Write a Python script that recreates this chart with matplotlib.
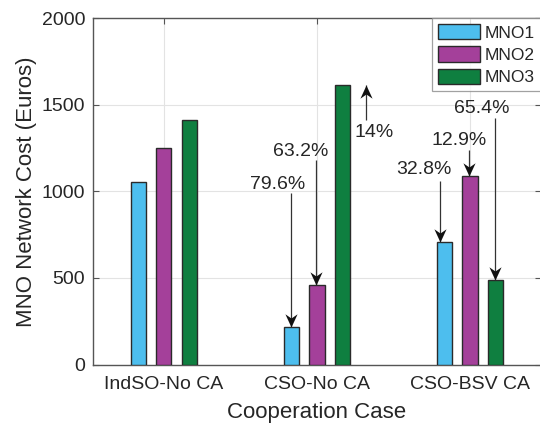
import numpy as np
import matplotlib
matplotlib.use("Agg")
import matplotlib.pyplot as plt
from matplotlib.path import Path

plt.rcParams["font.family"] = ["Liberation Sans", "DejaVu Sans"]

# network cost per operator for each cooperation case (Euros)
cases = ["IndSO-No CA", "CSO-No CA", "CSO-BSV CA"]
operators = ["MNO1", "MNO2", "MNO3"]
mno1_cost = [1053, 215, 708]
mno2_cost = [1250, 460, 1089]
mno3_cost = [1415, 1613, 490]

# change relative to the IndSO case, shown as annotations
change_labels = {
    ("CSO-No CA", "MNO1"): "79.6%",
    ("CSO-No CA", "MNO2"): "63.2%",
    ("CSO-No CA", "MNO3"): "14%",
    ("CSO-BSV CA", "MNO1"): "32.8%",
    ("CSO-BSV CA", "MNO2"): "12.9%",
    ("CSO-BSV CA", "MNO3"): "65.4%",
}

colors = ["#4DBEEE", "#A4409A", "#0F7F40"]
text_color = "#262626"
axis_color = "#555555"

# notched arrow head, tip at the origin pointing down
HEAD_DOWN = Path([(0, 0), (-0.46, 1), (0, 0.68), (0.46, 1), (0, 0)],
                 [Path.MOVETO, Path.LINETO, Path.LINETO, Path.LINETO, Path.CLOSEPOLY])
HEAD_UP = Path([(0, 0), (-0.46, -1), (0, -0.68), (0.46, -1), (0, 0)],
               [Path.MOVETO, Path.LINETO, Path.LINETO, Path.LINETO, Path.CLOSEPOLY])


def draw_arrow(ax, x, y_from, y_to):
    ax.plot([x, x], [y_from, y_to], color="#333333", lw=0.9, zorder=4,
            solid_capstyle="butt")
    head = HEAD_DOWN if y_to < y_from else HEAD_UP
    ax.plot([x], [y_to], marker=head, markersize=19, color="#111111",
            markeredgewidth=0, zorder=5)


fig = plt.figure(figsize=(5.4, 4.26), dpi=100)
ax = fig.add_axes([92.7 / 540, 61.5 / 426, 448.3 / 540, 346.2 / 426])

x = np.arange(1, len(cases) + 1)
step = 0.167
width = 0.1
series = [mno1_cost, mno2_cost, mno3_cost]
for i, (name, vals, col) in enumerate(zip(operators, series, colors)):
    ax.bar(x + (i - 1) * step, vals, width=width, color=col, edgecolor="#2a2a2a",
           linewidth=1.0, label=name, zorder=3)

base = {op: vals[0] for op, vals in zip(operators, series)}


def bar_x(case, op):
    return cases.index(case) + 1 + (operators.index(op) - 1) * step


def bar_val(case, op):
    return series[operators.index(op)][cases.index(case)]


# (case, operator): (text dx, text y, arrow dx, arrow tail y)
layout = {
    ("CSO-No CA", "MNO1"): (-0.088, 1038, 0.0, 992),
    ("CSO-No CA", "MNO2"): (-0.105, 1228, -0.005, 1182),
    ("CSO-BSV CA", "MNO1"): (-0.134, 1124, -0.03, 1062),
    ("CSO-BSV CA", "MNO2"): (-0.072, 1292, -0.005, 1240),
    ("CSO-BSV CA", "MNO3"): (-0.089, 1477, 0.0, 1425),
}
for key, (tdx, ty, adx, tail) in layout.items():
    bx = bar_x(*key)
    ax.text(bx + tdx, ty, change_labels[key], ha="center", va="center",
            fontsize=14, color=text_color, zorder=6)
    draw_arrow(ax, bx + adx, tail, bar_val(*key))

# MNO3 cost rises under CSO-No CA: arrow from the IndSO level up to the new level
bx = bar_x("CSO-No CA", "MNO3")
draw_arrow(ax, bx + 0.153, base["MNO3"], bar_val("CSO-No CA", "MNO3"))
ax.text(bx + 0.206, 1338, change_labels[("CSO-No CA", "MNO3")], ha="center",
        va="center", fontsize=14, color=text_color, zorder=6)

ax.set_xlim(0.535, 3.465)
ax.set_ylim(0, 2000)
ax.set_xticks(x)
ax.set_xticklabels(cases)
ax.set_yticks([0, 500, 1000, 1500, 2000])
ax.tick_params(direction="in", length=4, width=0.8, colors=axis_color,
               labelcolor=text_color, labelsize=14, top=True, right=True)
ax.tick_params(axis="y", pad=5.5)
ax.tick_params(axis="x", pad=8.5)
ax.grid(True, color="#E3E3E3", linewidth=0.8, zorder=0)
ax.set_axisbelow(True)
for sp in ax.spines.values():
    sp.set_color(axis_color)
    sp.set_linewidth(1.0)

ax.set_xlabel("Cooperation Case", fontsize=16, color=text_color, labelpad=6.5)
ax.set_ylabel("MNO Network Cost (Euros)", fontsize=16, color=text_color,
              labelpad=3)

leg = ax.legend(loc="upper right", bbox_to_anchor=(1.0, 1.0), borderaxespad=0,
                fontsize=12.5, frameon=True, fancybox=False, handlelength=2.42,
                handleheight=0.96, handletextpad=0.3, labelspacing=0.32,
                borderpad=0.35)
leg.get_frame().set_edgecolor("#8a8a8a")
leg.get_frame().set_linewidth(0.9)
for t in leg.get_texts():
    t.set_color(text_color)
for h in leg.legend_handles:
    h.set_edgecolor("#2a2a2a")
    h.set_linewidth(1.0)

fig.savefig("out.png", dpi=100)
